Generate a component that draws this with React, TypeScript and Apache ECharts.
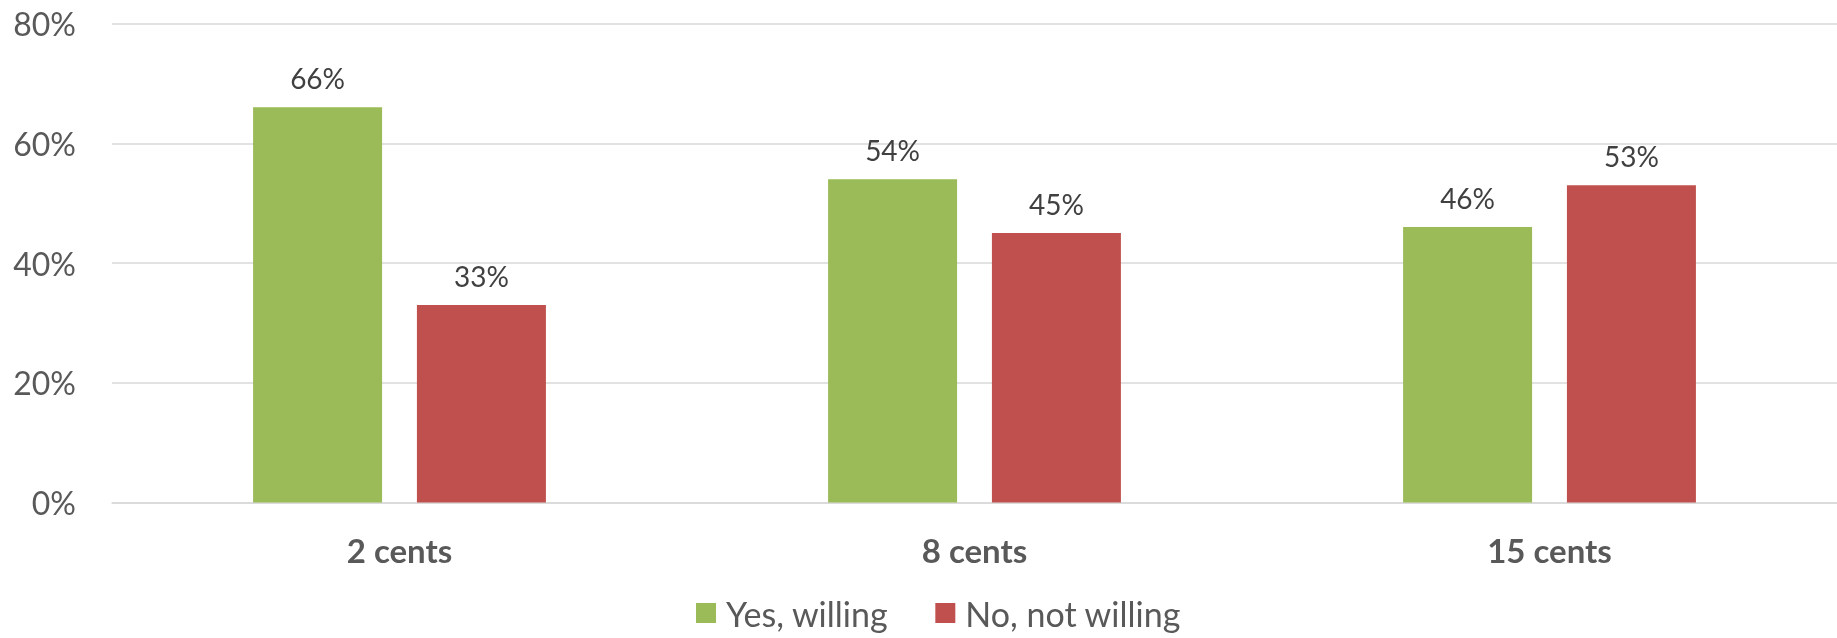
import React, { useEffect, useRef } from "react";
import * as echarts from "echarts";

const categories = ["2 cents", "8 cents", "15 cents"];
const yesWilling = [66, 54, 46];
const noWilling = [33, 45, 53];
const seriesNames = ["Yes, willing", "No, not willing"];
const yTicks = { min: 0, max: 80, interval: 20 };

export default function App() {
  const ref = useRef<HTMLDivElement>(null);
  useEffect(() => {
    if (!ref.current) return;
    const chart = echarts.init(ref.current, null, { renderer: "svg" });
    const font = "Lato, 'Open Sans', sans-serif";
    chart.setOption({
      animation: false,
      textStyle: { fontFamily: font },
      grid: { left: 112, right: -6, top: 23.5, bottom: 135.4, containLabel: false },
      legend: {
        left: 691,
        top: 591,
        itemWidth: 20,
        itemHeight: 20,
        itemGap: 47,
        icon: "rect",
        textStyle: { fontSize: 34, color: "#595959", fontFamily: font, padding: [0, 0, 0, 5] },
        data: seriesNames,
      },
      xAxis: {
        type: "category",
        data: categories,
        axisTick: { show: false },
        axisLine: { show: true, lineStyle: { color: "#d9d9d9", width: 1.5 } },
        axisLabel: { fontSize: 33, fontWeight: "bold", color: "#595959", margin: 31, fontFamily: font },
      },
      yAxis: {
        type: "value",
        min: yTicks.min,
        max: yTicks.max,
        interval: yTicks.interval,
        axisLine: { show: false },
        axisTick: { show: false },
        axisLabel: { fontSize: 32, color: "#595959", margin: 36, formatter: "{value}%", fontFamily: font },
        splitLine: { lineStyle: { color: "#d9d9d9", width: 1.5 } },
      },
      series: [
        {
          name: seriesNames[0],
          type: "bar",
          data: yesWilling,
          barWidth: 129,
          barGap: "27%",
          itemStyle: { color: "#9BBB59" },
          label: { show: true, position: "top", distance: 15, fontSize: 28, color: "#404040", formatter: "{c}%", fontFamily: font },
        },
        {
          name: seriesNames[1],
          type: "bar",
          data: noWilling,
          barWidth: 129,
          barGap: "27%",
          itemStyle: { color: "#C0504D" },
          label: { show: true, position: "top", distance: 15, fontSize: 28, color: "#404040", formatter: "{c}%", fontFamily: font },
        },
      ],
    });
    return () => chart.dispose();
  }, []);
  return <div ref={ref} style={{ position: "fixed", left: 0, top: 0, width: 1837, height: 638 }} />;
}
